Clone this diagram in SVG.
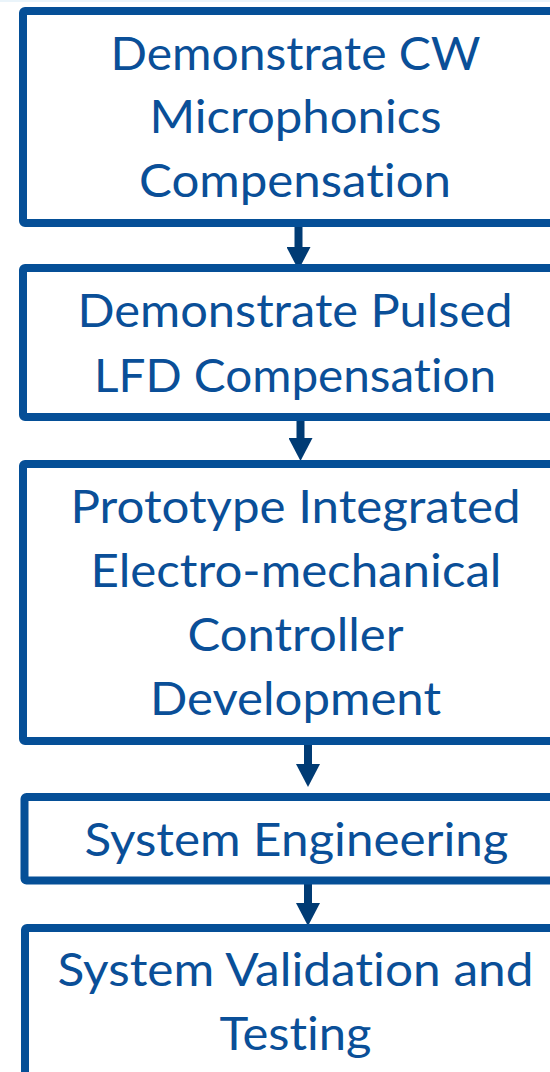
<svg xmlns="http://www.w3.org/2000/svg" width="550" height="1072" viewBox="0 0 550 1072">
  <style>
    .box { fill: #ffffff; stroke: #054f97; stroke-width: 8; }
    .lbl { font-family: Lato, "Open Sans", "Liberation Sans", sans-serif; font-size: 46px; fill: #0a4f98; text-anchor: middle; font-variant-ligatures: none; font-feature-settings: "liga" 0, "clig" 0; }
    .conn { stroke: #003b74; stroke-width: 8; fill: none; }
  </style>
  <defs>
    <marker id="head" markerUnits="userSpaceOnUse" viewBox="0 0 23 24" markerWidth="23" markerHeight="24" refX="0" refY="12" orient="auto">
      <path d="M0,0 L23,12 L0,24 Z" fill="#003b74"/>
    </marker>
  </defs>
  <rect x="0" y="0" width="550" height="1072" fill="#ffffff"/>
  <rect x="0" y="0" width="550" height="2" fill="#eaf4fa"/>

  <g id="connectors">
    <line class="conn" x1="298.5" y1="226" x2="298.5" y2="247" marker-end="url(#head)"/>
    <line class="conn" x1="300.5" y1="420" x2="300.5" y2="438" marker-end="url(#head)"/>
    <line class="conn" x1="308" y1="744" x2="308" y2="764" marker-end="url(#head)"/>
    <line class="conn" x1="308" y1="884" x2="308" y2="903" marker-end="url(#head)"/>
  </g>

  <g id="node1">
    <rect class="box" x="23" y="11" width="560" height="212" rx="2"/>
    <text class="lbl" x="295.5" y="70" textLength="370" lengthAdjust="spacingAndGlyphs">Demonstrate CW</text>
    <text class="lbl" x="295.5" y="133" textLength="292" lengthAdjust="spacingAndGlyphs">Microphonics</text>
    <text class="lbl" x="295" y="197" textLength="312" lengthAdjust="spacingAndGlyphs">Compensation</text>
  </g>

  <g id="node2">
    <rect class="box" x="23" y="268" width="560" height="149" rx="2"/>
    <text class="lbl" x="295" y="327" textLength="435" lengthAdjust="spacingAndGlyphs">Demonstrate Pulsed</text>
    <text class="lbl" x="295" y="391.5" textLength="402" lengthAdjust="spacingAndGlyphs">LFD Compensation</text>
  </g>

  <g id="node3">
    <rect class="box" x="23" y="464" width="560" height="277" rx="2"/>
    <text class="lbl" x="295.5" y="522.5" textLength="450" lengthAdjust="spacingAndGlyphs">Prototype Integrated</text>
    <text class="lbl" x="296" y="586.5" textLength="411" lengthAdjust="spacingAndGlyphs">Electro-mechanical</text>
    <text class="lbl" x="295.5" y="650.5" textLength="216" lengthAdjust="spacingAndGlyphs">Controller</text>
    <text class="lbl" x="295.5" y="715" textLength="291" lengthAdjust="spacingAndGlyphs">Development</text>
  </g>

  <g id="node4">
    <rect class="box" x="24.5" y="797" width="560" height="83.5" rx="2"/>
    <text class="lbl" x="296.5" y="856" textLength="424" lengthAdjust="spacingAndGlyphs">System Engineering</text>
  </g>

  <g id="node5">
    <rect class="box" x="25" y="928" width="560" height="200" rx="2"/>
    <text class="lbl" x="295.5" y="986" textLength="476" lengthAdjust="spacingAndGlyphs">System Validation and</text>
    <text class="lbl" x="295.5" y="1050" textLength="152" lengthAdjust="spacingAndGlyphs">Testing</text>
  </g>
</svg>
